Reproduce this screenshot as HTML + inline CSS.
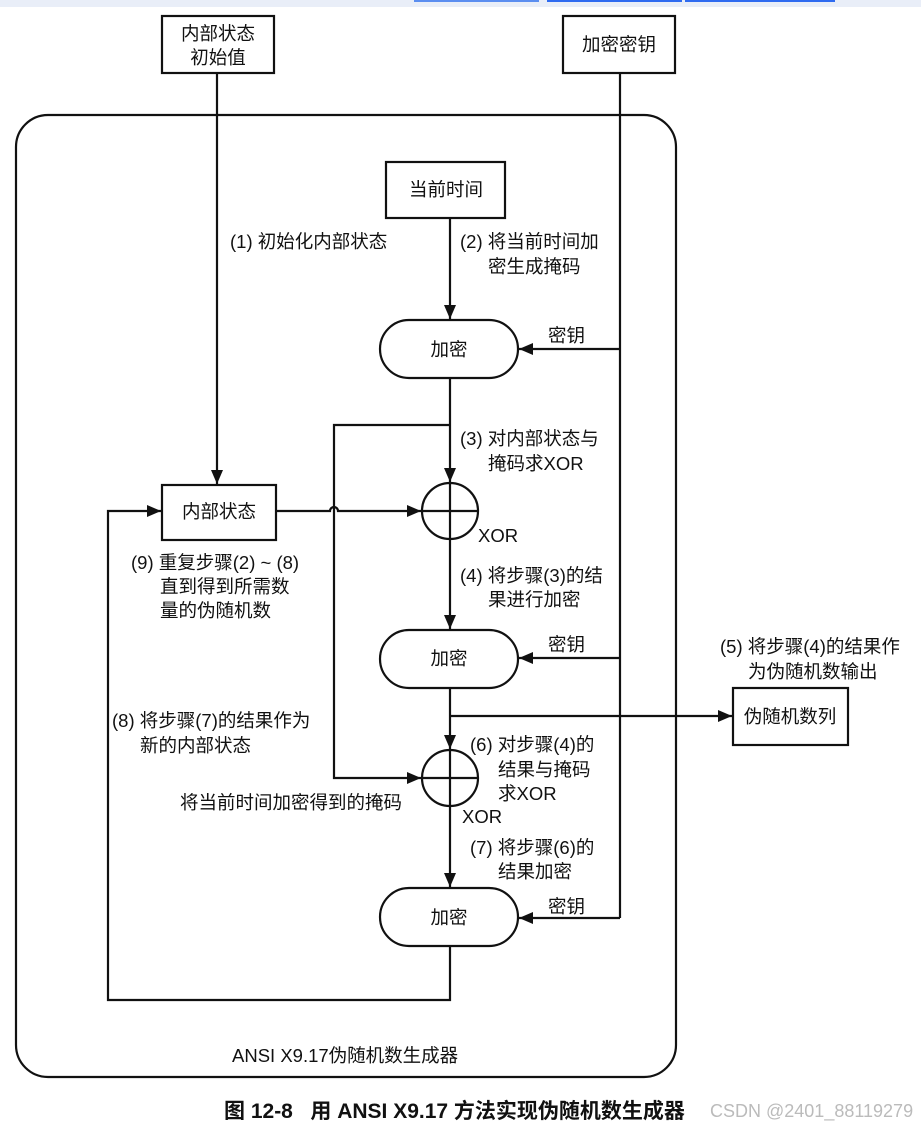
<!DOCTYPE html>
<html><head><meta charset="utf-8"><style>
html,body{margin:0;padding:0;background:#fff;}
svg{display:block;}
text{font-family:"Liberation Sans","Noto Sans CJK SC",sans-serif;font-size:18.5px;fill:#111;}
</style></head><body>
<svg width="921" height="1127" viewBox="0 0 921 1127" xmlns="http://www.w3.org/2000/svg">
<defs><marker id="b" viewBox="0 0 14 12" markerWidth="14" markerHeight="12" refX="14" refY="6" orient="auto" markerUnits="userSpaceOnUse"><path d="M0,0 L14,6 L0,12 z" fill="#111"/></marker></defs>
<rect x="0" y="0" width="921" height="7" fill="#e9eef8"/>
<rect x="414" y="0" width="125" height="2" fill="#5b8ef0"/>
<rect x="547" y="0" width="135" height="2" fill="#2f6bf0"/>
<rect x="685" y="0" width="150" height="2" fill="#2f6bf0"/>
<g stroke="#111" stroke-width="2.2" fill="none">
<rect x="16" y="115" width="660" height="962" rx="32"/>
<rect x="162" y="16" width="112" height="57" fill="#fff"/>
<rect x="563" y="16" width="112" height="57" fill="#fff"/>
<rect x="386" y="162" width="119" height="56"/>
<rect x="380" y="320" width="138" height="58" rx="29"/>
<rect x="380" y="630" width="138" height="58" rx="29"/>
<rect x="380" y="888" width="138" height="58" rx="29"/>
<rect x="162" y="485" width="114" height="55"/>
<rect x="733" y="688" width="115" height="57"/>
<circle cx="450" cy="511" r="28"/><line x1="422" y1="511" x2="478" y2="511"/><line x1="450" y1="483" x2="450" y2="539"/>
<circle cx="450" cy="778" r="28"/><line x1="422" y1="778" x2="478" y2="778"/><line x1="450" y1="750" x2="450" y2="806"/>
<line x1="217" y1="73" x2="217" y2="484" marker-end="url(#b)"/>
<line x1="620" y1="73" x2="620" y2="918"/>
<line x1="620" y1="349" x2="519" y2="349" marker-end="url(#b)"/>
<line x1="620" y1="658" x2="519" y2="658" marker-end="url(#b)"/>
<line x1="620" y1="918" x2="519" y2="918" marker-end="url(#b)"/>
<line x1="450" y1="218" x2="450" y2="319" marker-end="url(#b)"/>
<line x1="450" y1="378" x2="450" y2="482" marker-end="url(#b)"/>
<polyline points="450,425 334,425 334,778 421,778" marker-end="url(#b)"/>
<path d="M276,511 L330,511 A4,4 0 0 1 338,511 L421,511" marker-end="url(#b)"/>
<line x1="450" y1="539" x2="450" y2="629" marker-end="url(#b)"/>
<line x1="450" y1="688" x2="450" y2="749" marker-end="url(#b)"/>
<line x1="450" y1="716" x2="732" y2="716" marker-end="url(#b)"/>
<line x1="450" y1="806" x2="450" y2="887" marker-end="url(#b)"/>
<polyline points="450,946 450,1000 108,1000 108,511 161,511" marker-end="url(#b)"/>
</g>
<text x="218" y="40" text-anchor="middle">内部状态</text>
<text x="218" y="64" text-anchor="middle">初始值</text>
<text x="619" y="51" text-anchor="middle">加密密钥</text>
<text x="446" y="196" text-anchor="middle">当前时间</text>
<text x="449" y="356" text-anchor="middle">加密</text>
<text x="449" y="665" text-anchor="middle">加密</text>
<text x="449" y="924" text-anchor="middle">加密</text>
<text x="219" y="518" text-anchor="middle">内部状态</text>
<text x="790" y="723" text-anchor="middle">伪随机数列</text>
<text x="230" y="248">(1) 初始化内部状态</text>
<text x="460" y="248">(2) 将当前时间加</text>
<text x="488" y="273">密生成掩码</text>
<text x="548" y="342">密钥</text>
<text x="548" y="651">密钥</text>
<text x="548" y="913">密钥</text>
<text x="460" y="445">(3) 对内部状态与</text>
<text x="488" y="470">掩码求XOR</text>
<text x="478" y="542">XOR</text>
<text x="131" y="569">(9) 重复步骤(2) ~ (8)</text>
<text x="160" y="593">直到得到所需数</text>
<text x="160" y="617">量的伪随机数</text>
<text x="460" y="582">(4) 将步骤(3)的结</text>
<text x="488" y="606">果进行加密</text>
<text x="720" y="653">(5) 将步骤(4)的结果作</text>
<text x="748" y="678">为伪随机数输出</text>
<text x="112" y="727">(8) 将步骤(7)的结果作为</text>
<text x="140" y="752">新的内部状态</text>
<text x="470" y="751">(6) 对步骤(4)的</text>
<text x="498" y="776">结果与掩码</text>
<text x="498" y="800">求XOR</text>
<text x="180" y="809">将当前时间加密得到的掩码</text>
<text x="462" y="823">XOR</text>
<text x="470" y="854">(7) 将步骤(6)的</text>
<text x="498" y="878">结果加密</text>
<text x="232" y="1062">ANSI X9.17伪随机数生成器</text>
<text x="224" y="1118" style="font-size:21px;font-weight:bold">图 12-8 &#160;&#160;用 ANSI X9.17 方法实现伪随机数生成器</text>
<text x="710" y="1117" style="font-size:18px;fill:#bbb">CSDN @2401_88119279</text>
</svg>
</body></html>
